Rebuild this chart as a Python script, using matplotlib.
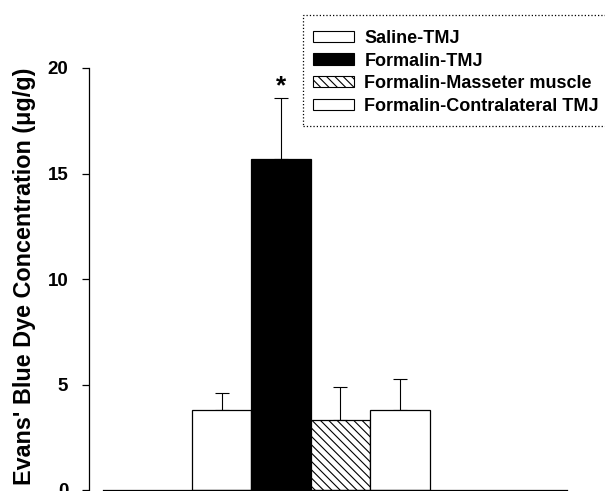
import matplotlib
matplotlib.use("Agg")
import matplotlib.pyplot as plt
from matplotlib.patches import Patch, Rectangle

plt.rcParams['font.family'] = ['Liberation Sans', 'DejaVu Sans']
plt.rcParams['hatch.linewidth'] = 0.8

groups = ["Saline-TMJ", "Formalin-TMJ", "Formalin-Masseter muscle", "Formalin-Contralateral TMJ"]
means = [3.8, 15.7, 3.3, 3.8]
errors = [0.8, 2.9, 1.6, 1.45]
faces = ["white", "black", "white", "white"]
hatches = ["", "", "\\\\\\\\", ""]
yticks = [0, 5, 10, 15, 20]

W, H = 605, 491
fig = plt.figure(figsize=(W / 100, H / 100), dpi=100)
left, right, top, bottom = 89, 567, 68, 490
ax = fig.add_axes([left / W, (H - bottom) / H, (right - left) / W, (bottom - top) / H])

x = list(range(len(groups)))
for i in x:
    ax.bar(i, means[i], width=1.0, color=faces[i], edgecolor="black",
           linewidth=0.9, hatch=hatches[i], zorder=2)
    ax.errorbar(i, means[i], yerr=[[0], [errors[i]]], fmt="none", ecolor="black",
                elinewidth=0.8, capsize=5, capthick=0.8, zorder=1)

ax.text(1, means[1] + errors[1] + 0.55, "*", ha="center", va="center",
        fontsize=19, fontweight="bold")

ax.set_xlim(-2.227, 5.807)
ax.set_ylim(0, 20)
ax.set_yticks(yticks)
ax.set_yticklabels([str(t) for t in yticks], fontsize=13.5, fontweight="bold")
ax.set_xticks([])
for s in ["top", "right"]:
    ax.spines[s].set_visible(False)
ax.spines["bottom"].set_bounds(-2.0, 5.807)
ax.spines["left"].set_linewidth(0.9)
ax.spines["bottom"].set_linewidth(0.9)
ax.tick_params(axis="y", direction="out", length=5, width=0.9, pad=10)
ax.set_ylabel("Evans' Blue Dye Concentration (\u03bcg/g)", fontsize=16.8, fontweight="bold")
ax.yaxis.label.set_va("center")
ax.yaxis.set_label_coords(-0.134, 0.507)

# dotted legend frame (extends past the right edge as in the reference)
frame = Rectangle((303 / W, 1 - 126 / H), (720 - 303) / W, (126 - 15) / H,
                  transform=fig.transFigure, facecolor="white", edgecolor="black",
                  linewidth=0.9, linestyle=":", clip_on=False, zorder=5)
fig.add_artist(frame)

handles = [Patch(facecolor=faces[i], edgecolor="black", linewidth=0.8, hatch=hatches[i])
           for i in x]
leg = fig.legend(handles, groups, loc="upper left",
                 bbox_to_anchor=(303 / W, 1 - 20 / H),
                 prop={"weight": "bold", "size": 13},
                 handlelength=2.3, handleheight=0.6, handletextpad=0.55,
                 labelspacing=0.31, borderpad=0.55, borderaxespad=0,
                 frameon=False)
leg.set_zorder(6)

fig.savefig("out.png", dpi=100)
